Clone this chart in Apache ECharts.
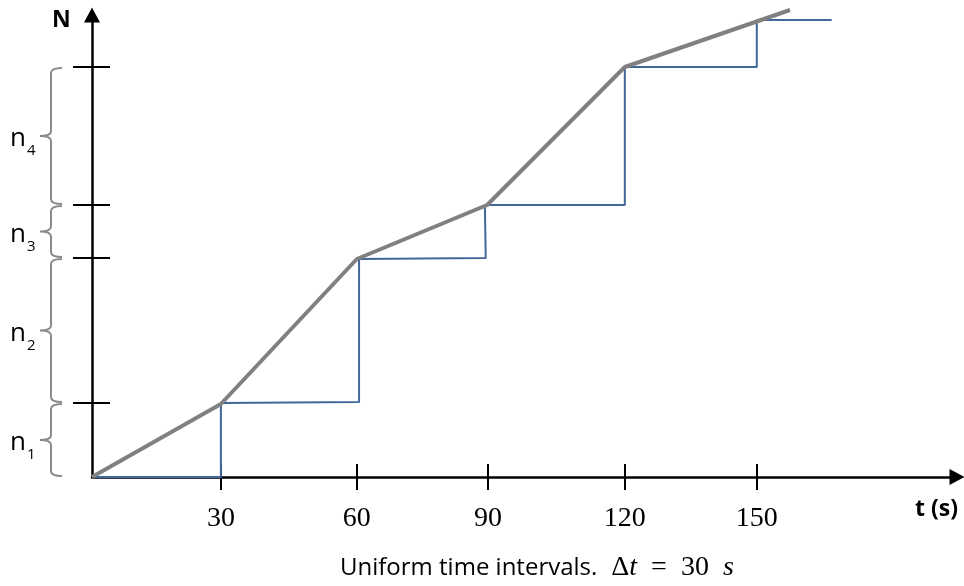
<!DOCTYPE html>
<html>
<head>
<meta charset="utf-8">
<title>Uniform time intervals</title>
<script src="https://cdn.jsdelivr.net/npm/echarts@6/dist/echarts.min.js"></script>
<style>
    html, body { margin: 0; padding: 0; background: #fff; }
    #chart { width: 964px; height: 586px; }
</style>
</head>
<body>
<div id="chart"></div>
<script>
// ======================
// DATA
// ======================

// t (s) where the x ticks sit, and what they read
const tTicks = [29.1, 59.8, 89.4, 120.3, 150.1];
const tLabels = ['30', '60', '90', '120', '150'];

// N where the y ticks sit (cumulative count at each interval end)
const nTicks = [74, 219, 272, 410];
const nNames = ['1', '2', '3', '4'];

// grey: cumulative count joined straight
const gradualT = [0, 29.1, 59.8, 89.2, 120.3, 157.6];
const gradualN = [0, 73, 218, 272, 410, 467];

const stepT = [0, 29.1, 29.1, 60.3, 60.3, 88.9, 88.7, 120.3, 120.3, 150.1, 150.1, 167.0];
const stepN = [0, 0, 74, 75, 218, 219, 272, 272, 410, 410, 457, 457];

const T_MAX = 195.3;
const N_MAX = 462;

// ======================
// HELPERS
// ======================

const BLACK = '#000';
const GREY = '#8a8a8a';

// curly brace left of the N axis, one per interval
function renderBrace(params, api) {
    const top = api.coord([0, api.value(1)])[1] + 1;
    const bot = api.coord([0, api.value(0)])[1] - 1;
    const mid = (top + bot) / 2;
    const xv = 51, xh = 62, xm = 40, r = 5;

    const d = 'M' + xh + ' ' + top +
        ' Q' + xv + ' ' + top + ' ' + xv + ' ' + (top + r) +
        ' L' + xv + ' ' + (mid - r) +
        ' Q' + xv + ' ' + mid + ' ' + xm + ' ' + mid +
        ' Q' + xv + ' ' + mid + ' ' + xv + ' ' + (mid + r) +
        ' L' + xv + ' ' + (bot - r) +
        ' Q' + xv + ' ' + bot + ' ' + xh + ' ' + bot;

    return {
        type: 'group',
        children: [
            {
                type: 'path',
                shape: { pathData: d },
                style: { stroke: GREY, lineWidth: 2, fill: null }
            },
            {
                type: 'text',
                x: 26,
                y: mid + 3,
                style: {
                    text: 'n',
                    font: '26px "Open Sans"',
                    fill: BLACK,
                    align: 'right',
                    verticalAlign: 'middle'
                }
            },
            {
                type: 'text',
                x: 27,
                y: mid + 15,
                style: {
                    text: nNames[params.dataIndex],
                    font: '15px "Open Sans"',
                    fill: BLACK,
                    align: 'left',
                    verticalAlign: 'middle'
                }
            }
        ]
    };
}

function valueAxis(min, max, pos, inside, len, ticks, label) {
    return {
        type: 'value',
        min: min,
        max: max,
        position: pos,
        axisLine: {
            show: inside,
            onZero: false,
            symbol: ['none', 'triangle'],
            symbolSize: [16, 15],
            lineStyle: { color: BLACK, width: 2.5 }
        },
        axisTick: {
            show: true,
            inside: inside,
            length: len,
            customValues: ticks,
            lineStyle: { color: BLACK, width: 2 }
        },
        axisLabel: label || { show: false },
        splitLine: { show: false }
    };
}

// ======================
// CHART
// ======================

const chart = echarts.init(document.getElementById('chart'), null, { renderer: 'canvas' });

const xLabel = {
    show: true,
    customValues: tTicks,
    margin: 28,
    color: BLACK,
    fontFamily: 'Liberation Serif',
    fontSize: 28,
    formatter: function (v) {
        return tLabels[tTicks.indexOf(v)];
    }
};

chart.setOption({
    animation: false,
    grid: { left: 92, right: 7, top: 15, bottom: 109 },
    xAxis: [
        valueAxis(0, T_MAX, 'bottom', true, 13, tTicks, xLabel),
        valueAxis(0, T_MAX, 'bottom', false, 13, tTicks)
    ],
    yAxis: [
        valueAxis(0, N_MAX, 'left', true, 18, nTicks),
        valueAxis(0, N_MAX, 'left', false, 19, nTicks)
    ],
    title: {
        left: 340,
        top: 553,
        padding: 0,
        text: '{a|Uniform time intervals.}{m|  Δ}{i|t}{m|  =  30  }{i|s}',
        textStyle: {
            fontWeight: 'normal',
            rich: {
                a: { fontFamily: 'Open Sans', fontSize: 24, fontWeight: 'normal', color: BLACK, lineHeight: 30 },
                m: { fontFamily: 'Liberation Serif', fontSize: 28, fontWeight: 'normal', color: BLACK, lineHeight: 30 },
                i: { fontFamily: 'Liberation Serif', fontSize: 28, fontWeight: 'normal', fontStyle: 'italic', color: BLACK, lineHeight: 30 }
            }
        }
    },
    graphic: [
        {
            type: 'text',
            left: 52,
            top: 9,
            style: { text: 'N', font: 'bold 23px "Open Sans"', fill: BLACK }
        },
        {
            type: 'text',
            left: 915,
            top: 498,
            style: { text: 't (s)', font: 'bold 23px "Open Sans"', fill: BLACK }
        }
    ],
    series: [
        {
            type: 'line',
            data: stepT.map((t, i) => [t, stepN[i]]),
            showSymbol: false,
            clip: false,
            lineStyle: { color: '#41679b', width: 2 },
            z: 3
        },
        {
            type: 'line',
            data: gradualT.map((t, i) => [t, gradualN[i]]),
            showSymbol: false,
            clip: false,
            lineStyle: { color: '#808080', width: 4 },
            z: 4
        },
        {
            type: 'custom',
            renderItem: renderBrace,
            data: nTicks.map((hi, i) => [i === 0 ? 0 : nTicks[i - 1], hi]),
            silent: true,
            z: 1
        }
    ]
});
</script>
</body>
</html>
